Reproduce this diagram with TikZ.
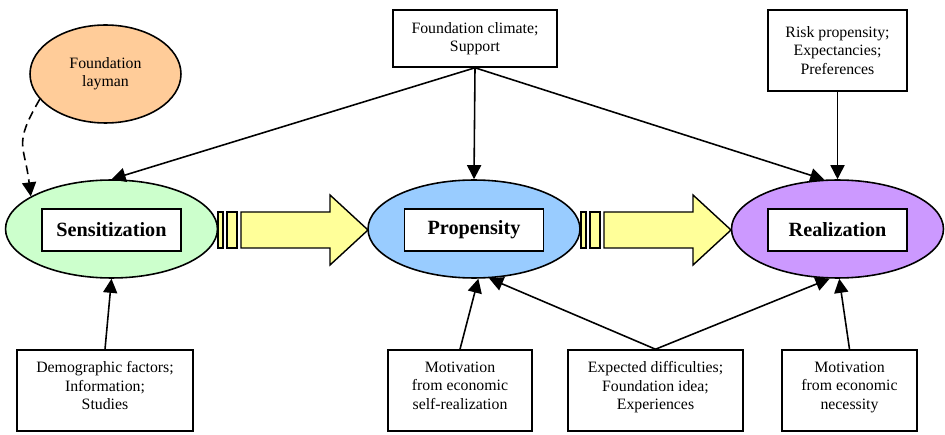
\documentclass[tikz,border=0pt]{standalone}
\usepackage{fontspec}
\setmainfont{Liberation Serif}
\usetikzlibrary{arrows.meta}
\usetikzlibrary{shapes.geometric}
\definecolor{qorange}{RGB}{255,204,153}
\definecolor{qgreen}{RGB}{204,255,204}
\definecolor{qblue}{RGB}{153,204,255}
\definecolor{qviolet}{RGB}{204,153,255}
\definecolor{qyellow}{RGB}{255,255,153}
\tikzset{
  phase/.style={ellipse,draw,line width=0.9pt,minimum width=4.24cm,minimum height=1.96cm,inner sep=0pt},
  phaselabel/.style={draw,fill=white,line width=0.9pt,minimum width=2.78cm,minimum height=0.84cm,inner sep=0pt,font=\fontsize{11.5}{13}\selectfont\bfseries},
  factor/.style={draw,fill=white,line width=0.9pt,align=center,inner sep=0pt,font=\fontsize{9}{10.5}\selectfont},
  link/.style={line width=0.9pt,-{Triangle[length=8pt,width=8pt]}},
  push/.style={draw,fill=qyellow,line width=0.8pt,line join=miter},
}

\begin{document}
\begin{tikzpicture}[x=0.02cm,y=0.02cm]
\useasboundingbox (0,0) rectangle (945,-435);

%phases:
 \node[phase,fill=qgreen] (sens) at (111.5,-229) {};
 \node[phase,fill=qblue] (prop) at (474,-229) {};
 \node[phase,fill=qviolet] (real) at (837.5,-229) {};
 \node[phaselabel] (senslabel) at (111.5,-230) {Sensitization};
 \node[phaselabel] (proplabel) at (474,-230) {Propensity};
 \node[phaselabel] (reallabel) at (837.5,-230) {Realization};
 \node[phase,fill=qorange,minimum width=3.02cm,align=center,font=\fontsize{9}{10.5}\selectfont] (layman) at (105.5,-74) {Foundation\\layman};

%influences:
 \node[factor,minimum width=3.28cm,minimum height=1.14cm] (climate) at (475,-38.5) {Foundation climate;\\Support};
 \node[factor,minimum width=2.78cm,minimum height=1.62cm] (risk) at (837.5,-50.5) {Risk propensity;\\Expectancies;\\Preferences};
 \node[factor,minimum width=3.52cm,minimum height=1.62cm] (demo) at (105,-390.5) {Demographic factors;\\Information;\\Studies\\[-5pt]};
 \node[factor,minimum width=2.88cm,minimum height=1.62cm] (selfreal) at (460,-390.5) {Motivation\\from economic\\self-realization\\[-5pt]};
 \node[factor,minimum width=3.5cm,minimum height=1.62cm] (expect) at (655.5,-390.5) {Expected difficulties;\\Foundation idea;\\Experiences\\[-5pt]};
 \node[factor,minimum width=2.7cm,minimum height=1.62cm] (necess) at (849.5,-390.5) {Motivation\\from economic\\necessity\\[-5pt]};

%block arrows:
 \foreach \dx in {0,363}{
  \draw[push] (218+\dx,-212) rectangle (223+\dx,-248);
  \draw[push] (227+\dx,-212) rectangle (237+\dx,-248);
  \draw[push] (241+\dx,-212) -- (330+\dx,-212) -- (330+\dx,-195) -- (368+\dx,-230)
    -- (330+\dx,-265) -- (330+\dx,-248) -- (241+\dx,-248) -- cycle;
 }

%connectors:
 \draw[link,dashed,dash pattern=on 5pt off 3pt] (layman.201) to[out=240,in=97,looseness=1.4] (sens.158);
 \draw[link] (climate.south) -- (sens.north);
 \draw[link] (climate.south) -- (prop.north);
 \draw[link] (climate.south) -- (real.105);
 \draw[link] (risk.south) -- (real.north);
 \draw[link] (demo.north) -- (sens.south);
 \draw[link] (selfreal.north) -- (prop.-85);
 \draw[link] (expect.north) -- (prop.-73);
 \draw[link] (expect.north) -- (real.-99);
 \draw[link] (necess.north) -- (real.-88);
\end{tikzpicture}
\end{document}
